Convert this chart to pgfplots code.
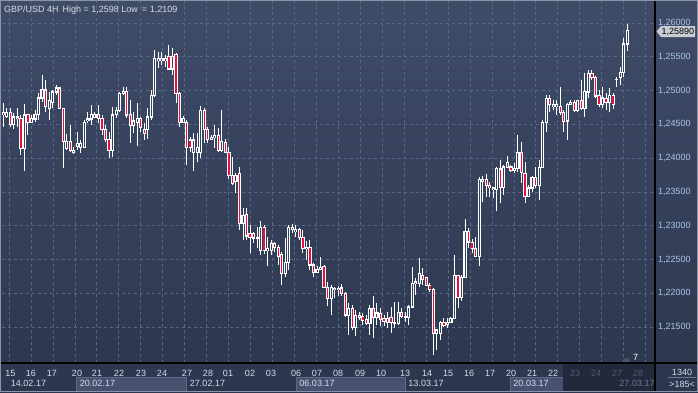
\documentclass[border=0pt]{standalone}
\usepackage{pgfplots}
\usepackage{pgfplotstable}
\pgfplotsset{compat=1.18}
\usepackage{fontspec}
\setmainfont{Liberation Sans}
\definecolor{bgtop}{HTML}{3F4C68}
\definecolor{bgbot}{HTML}{2C364E}
\definecolor{gridc}{HTML}{5A6784}
\definecolor{ylab}{HTML}{A8C4E4}
\definecolor{txt}{HTML}{D6DCE8}
\definecolor{dimtxt}{HTML}{6E7A94}
\definecolor{bearred}{HTML}{E8103C}
\definecolor{bullin}{HTML}{36425C}
\definecolor{boxc}{HTML}{465270}
\definecolor{boxb}{HTML}{5E6A88}
\definecolor{pricebox}{HTML}{C8CCD3}
\definecolor{framec}{HTML}{8C95A8}
\definecolor{marker}{HTML}{4C5468}

% open close high low (GBP/USD, 4H candles)
\pgfplotstableread{
o c h l
1.2464 1.2468 1.2482 1.2446
1.2462 1.2468 1.2474 1.2459
1.2468 1.2450 1.2474 1.2446
1.2450 1.2461 1.2467 1.2443
1.2459 1.2461 1.2474 1.2446
1.2459 1.2415 1.2464 1.2405
1.2415 1.2464 1.2480 1.2381
1.2464 1.2453 1.2464 1.2434
1.2453 1.2459 1.2464 1.2452
1.2458 1.2464 1.2471 1.2453
1.2464 1.2489 1.2496 1.2456
1.2489 1.2501 1.2523 1.2483
1.2501 1.2476 1.2516 1.2468
1.2474 1.2486 1.2498 1.2456
1.2483 1.2498 1.2501 1.2474
1.2498 1.2504 1.2508 1.2493
1.2504 1.2474 1.2505 1.2474
1.2474 1.2425 1.2474 1.2385
1.2414 1.2425 1.2436 1.2412
1.2425 1.2412 1.2449 1.2409
1.2409 1.2412 1.2416 1.2406
1.2418 1.2422 1.2439 1.2412
1.2416 1.2422 1.2427 1.2408
1.2416 1.2453 1.2456 1.2415
1.2456 1.2458 1.2468 1.2452
1.2458 1.2464 1.2479 1.2449
1.2461 1.2464 1.2468 1.2459
1.2465 1.2459 1.2479 1.2452
1.2459 1.2443 1.2464 1.2434
1.2443 1.2427 1.2449 1.2424
1.2427 1.2411 1.2439 1.2400
1.2411 1.2464 1.2476 1.2402
1.2464 1.2471 1.2476 1.2459
1.2470 1.2496 1.2498 1.2468
1.2496 1.2499 1.2505 1.2493
1.2499 1.2464 1.2505 1.2459
1.2465 1.2449 1.2486 1.2422
1.2449 1.2455 1.2468 1.2437
1.2453 1.2459 1.2482 1.2418
1.2459 1.2445 1.2461 1.2439
1.2442 1.2437 1.2452 1.2427
1.2442 1.2461 1.2474 1.2428
1.2461 1.2493 1.2501 1.2456
1.2493 1.2547 1.2560 1.2490
1.2545 1.2547 1.2557 1.2533
1.2544 1.2547 1.2557 1.2538
1.2545 1.2547 1.2553 1.2535
1.2550 1.2532 1.2567 1.2530
1.2532 1.2551 1.2563 1.2523
1.2553 1.2496 1.2556 1.2482
1.2496 1.2453 1.2498 1.2446
1.2453 1.2459 1.2462 1.2452
1.2453 1.2416 1.2456 1.2390
1.2427 1.2416 1.2431 1.2409
1.2408 1.2427 1.2437 1.2381
1.2408 1.2416 1.2437 1.2394
1.2408 1.2471 1.2477 1.2400
1.2471 1.2442 1.2474 1.2422
1.2443 1.2428 1.2446 1.2422
1.2428 1.2431 1.2434 1.2427
1.2431 1.2433 1.2449 1.2415
1.2433 1.2412 1.2445 1.2409
1.2412 1.2425 1.2471 1.2409
1.2424 1.2409 1.2428 1.2408
1.2409 1.2375 1.2416 1.2369
1.2375 1.2363 1.2402 1.2360
1.2365 1.2375 1.2378 1.2348
1.2378 1.2304 1.2387 1.2294
1.2304 1.2316 1.2326 1.2279
1.2317 1.2285 1.2326 1.2279
1.2289 1.2283 1.2301 1.2260
1.2289 1.2282 1.2291 1.2274
1.2282 1.2283 1.2298 1.2268
1.2264 1.2297 1.2307 1.2257
1.2297 1.2264 1.2301 1.2258
1.2263 1.2266 1.2283 1.2240
1.2263 1.2274 1.2279 1.2257
1.2274 1.2268 1.2276 1.2261
1.2268 1.2255 1.2271 1.2242
1.2257 1.2230 1.2261 1.2212
1.2230 1.2246 1.2282 1.2224
1.2246 1.2298 1.2301 1.2234
1.2295 1.2298 1.2303 1.2289
1.2291 1.2295 1.2301 1.2283
1.2294 1.2283 1.2297 1.2279
1.2283 1.2267 1.2294 1.2260
1.2266 1.2268 1.2277 1.2249
1.2268 1.2242 1.2279 1.2234
1.2242 1.2231 1.2245 1.2224
1.2231 1.2236 1.2240 1.2231
1.2236 1.2239 1.2254 1.2234
1.2240 1.2209 1.2242 1.2208
1.2209 1.2193 1.2217 1.2181
1.2193 1.2209 1.2212 1.2168
1.2206 1.2208 1.2209 1.2193
1.2206 1.2208 1.2211 1.2196
1.2208 1.2200 1.2214 1.2197
1.2200 1.2168 1.2202 1.2165
1.2168 1.2178 1.2186 1.2138
1.2178 1.2150 1.2183 1.2146
1.2150 1.2168 1.2175 1.2137
1.2168 1.2165 1.2172 1.2160
1.2166 1.2160 1.2171 1.2153
1.2162 1.2156 1.2168 1.2153
1.2156 1.2178 1.2183 1.2138
1.2178 1.2165 1.2196 1.2134
1.2165 1.2171 1.2186 1.2153
1.2171 1.2162 1.2178 1.2152
1.2163 1.2159 1.2168 1.2152
1.2157 1.2163 1.2172 1.2149
1.2165 1.2157 1.2180 1.2141
1.2156 1.2157 1.2187 1.2149
1.2156 1.2172 1.2187 1.2153
1.2172 1.2166 1.2178 1.2163
1.2165 1.2166 1.2172 1.2157
1.2165 1.2180 1.2183 1.2153
1.2180 1.2215 1.2239 1.2178
1.2215 1.2217 1.2223 1.2197
1.2215 1.2229 1.2252 1.2209
1.2226 1.2221 1.2237 1.2212
1.2223 1.2212 1.2224 1.2211
1.2212 1.2206 1.2215 1.2202
1.2206 1.2141 1.2208 1.2109
1.2141 1.2146 1.2146 1.2116
1.2141 1.2157 1.2160 1.2131
1.2157 1.2153 1.2163 1.2150
1.2154 1.2157 1.2163 1.2149
1.2157 1.2163 1.2165 1.2156
1.2163 1.2226 1.2257 1.2162
1.2226 1.2194 1.2227 1.2178
1.2194 1.2223 1.2227 1.2189
1.2223 1.2292 1.2310 1.2223
1.2292 1.2276 1.2297 1.2268
1.2276 1.2267 1.2280 1.2260
1.2267 1.2255 1.2283 1.2254
1.2255 1.2368 1.2372 1.2240
1.2366 1.2369 1.2374 1.2335
1.2369 1.2360 1.2377 1.2342
1.2360 1.2356 1.2365 1.2342
1.2354 1.2356 1.2356 1.2341
1.2354 1.2385 1.2387 1.2322
1.2384 1.2357 1.2397 1.2334
1.2357 1.2387 1.2390 1.2345
1.2387 1.2394 1.2403 1.2385
1.2387 1.2382 1.2390 1.2379
1.2382 1.2385 1.2393 1.2378
1.2385 1.2409 1.2434 1.2379
1.2409 1.2379 1.2424 1.2363
1.2378 1.2344 1.2394 1.2334
1.2344 1.2356 1.2360 1.2342
1.2356 1.2372 1.2374 1.2350
1.2372 1.2360 1.2387 1.2356
1.2360 1.2387 1.2397 1.2338
1.2387 1.2453 1.2456 1.2385
1.2453 1.2488 1.2493 1.2439
1.2488 1.2479 1.2493 1.2468
1.2477 1.2479 1.2486 1.2471
1.2477 1.2479 1.2486 1.2464
1.2477 1.2467 1.2505 1.2464
1.2468 1.2455 1.2471 1.2439
1.2455 1.2480 1.2482 1.2427
1.2480 1.2483 1.2486 1.2479
1.2483 1.2471 1.2486 1.2468
1.2471 1.2485 1.2486 1.2468
1.2486 1.2474 1.2516 1.2471
1.2474 1.2498 1.2526 1.2461
1.2498 1.2526 1.2530 1.2489
1.2526 1.2520 1.2530 1.2516
1.2520 1.2492 1.2522 1.2489
1.2493 1.2479 1.2501 1.2476
1.2479 1.2489 1.2505 1.2474
1.2489 1.2482 1.2496 1.2471
1.2482 1.2493 1.2504 1.2468
1.2493 1.2479 1.2496 1.2473
1.2516 1.2517 1.2520 1.2505
1.2520 1.2527 1.2535 1.2508
1.2527 1.2569 1.2578 1.2520
1.2569 1.2589 1.2598 1.2559
}\ohlc

\begin{document}
\begin{tikzpicture}[font=\fontsize{9}{10.5}\selectfont]
\useasboundingbox (0,0) rectangle (698pt,-392pt);
\shade[top color=bgtop, bottom color=bgbot] (0,0) rectangle (698pt,-392pt);
% bottom panel boxes
\fill[boxc] (76pt,-377pt) rectangle (186pt,-391pt);
\draw[boxb,line width=0.8pt] (76pt,-391pt) -- (76pt,-377pt) -- (186pt,-377pt) -- (186pt,-391pt);
\fill[boxc] (296pt,-377pt) rectangle (405pt,-391pt);
\draw[boxb,line width=0.8pt] (296pt,-391pt) -- (296pt,-377pt) -- (405pt,-377pt) -- (405pt,-391pt);
\fill[boxc] (510pt,-377pt) rectangle (563pt,-391pt);
\draw[boxb,line width=0.8pt] (510pt,-391pt) -- (510pt,-377pt) -- (563pt,-377pt);
\begin{axis}[
  at={(2pt,-363pt)}, anchor=south west, scale only axis,
  width=653pt, height=361pt,
  xmin=2, xmax=655, ymin=1.2097041, ymax=1.2631065,
  axis line style={draw=none},
  major tick length=0pt,
  ytick={1.215,1.22,1.225,1.23,1.235,1.24,1.245,1.25,1.255,1.26},
  yticklabels={{1,21500},{1,22000},{1,22500},{1,23000},{1,23500},{1,24000},{1,24500},{1,25000},{1,25500},{1,26000}},
  yticklabel pos=right,
  yticklabel style={anchor=west, inner sep=0pt, xshift=3pt, text=ylab},
  ymajorgrids=true,
  grid style={gridc, line width=0.7pt, dash pattern=on 3pt off 3pt},
  xtick={10.5,31,52,77,97,119,141,162,187,208,228,250,271,296,317,338,360,381,405,427,448,469,490,511,532,553,575,596,617,638},
  xticklabels={15,16,17,20,21,22,23,24,27,28,01,02,03,06,07,08,09,10,13,14,15,16,17,20,21,22,{\color{dimtxt}23},{\color{dimtxt}24},{\color{dimtxt}27},{\color{dimtxt}28}},
  xticklabel style={anchor=center, inner sep=0pt, yshift=-10pt, text=txt},
  /pgf/number format/assume math mode=true,
]
\pgfplotsinvokeforeach{0,...,29}{
  \draw[gridc, line width=0.7pt, dash pattern=on 3pt off 3pt] (axis cs:{9+21.95*#1},1.2097) -- (axis cs:{9+21.95*#1},1.2632);
}
% wicks
\addplot[draw=none, forget plot, error bars/.cd, y dir=both, y explicit, error mark=none,
  error bar style={draw=white, line width=1pt}]
  table[x expr={3.3+3.525*\coordindex}, y expr={(\thisrow{h}+\thisrow{l})/2}, y error expr={(\thisrow{h}-\thisrow{l})/2}] {\ohlc};
% bodies (outline)
\addplot[draw=none, forget plot, error bars/.cd, y dir=both, y explicit, error mark=none,
  error bar style={draw=white, line width=3.2pt}]
  table[x expr={3.3+3.525*\coordindex}, y expr={(\thisrow{o}+\thisrow{c})/2}, y error expr={abs(\thisrow{c}-\thisrow{o})/2+0.00008}] {\ohlc};
% bullish inner
\addplot[draw=none, forget plot, error bars/.cd, y dir=both, y explicit, error mark=none,
  error bar style={draw=bullin, line width=1pt}]
  table[x expr={3.3+3.525*\coordindex}, y expr={(\thisrow{o}+\thisrow{c})/2}, y error expr={max(0,(\thisrow{c}-\thisrow{o})/2-0.00008)}] {\ohlc};
% bearish inner
\addplot[draw=none, forget plot, error bars/.cd, y dir=both, y explicit, error mark=none,
  error bar style={draw=bearred, line width=1.4pt}]
  table[x expr={3.3+3.525*\coordindex}, y expr={(\thisrow{o}+\thisrow{c})/2}, y error expr={max(0,(\thisrow{o}-\thisrow{c})/2-0.00008)}] {\ohlc};
\end{axis}
% dark overlay (scroll area)
\fill[black, opacity=0.25] (563pt,-364pt) rectangle (655pt,-391pt);
% separators
\draw[black, line width=1.2pt] (655pt,0pt) -- (655pt,-392pt);
\draw[black, line width=1.2pt] (0pt,-363pt) -- (698pt,-363pt);
% title
\node[anchor=base west, inner sep=0pt, text=txt] at (4pt,-12pt) {GBP/USD 4H\, High = 1,2598 Low\, = 1,2109};
% date row
\node[inner sep=0pt, text=txt] at (28.5pt,-383pt) {14.02.17};
\node[inner sep=0pt, text=txt] at (97.5pt,-383pt) {20.02.17};
\node[inner sep=0pt, text=txt] at (207.5pt,-383pt) {27.02.17};
\node[inner sep=0pt, text=txt] at (317pt,-383pt) {06.03.17};
\node[inner sep=0pt, text=txt] at (426pt,-383pt) {13.03.17};
\node[inner sep=0pt, text=txt] at (531pt,-383pt) {20.03.17};
\node[inner sep=0pt, text=dimtxt] at (637pt,-383pt) {27.03.17};
% right bottom info
\node[inner sep=0pt, text=txt] at (682pt,-372pt) {1340};
\draw[dimtxt, line width=0.6pt] (668pt,-377.5pt) -- (696pt,-377.5pt);
\node[inner sep=0pt, text=txt] at (682pt,-384pt) {>185<};
% scroll marker
\fill[marker] (623pt,-362pt) arc[start angle=180, end angle=0, x radius=3.5pt, y radius=4pt] -- cycle;
\node[inner sep=0pt, text=white] at (635.5pt,-357.5pt) {7};
% current price box
\fill[pricebox] (656.5pt,-31.5pt) -- (661pt,-26pt) -- (695pt,-26pt) -- (695pt,-37pt) -- (661pt,-37pt) -- cycle;
\node[anchor=west, inner sep=0pt, text=black] at (661.5pt,-31.5pt) {1,25890};
% frame
\draw[framec, line width=1pt] (0.5pt,-0.5pt) rectangle (697.5pt,-391.5pt);
\end{tikzpicture}
\end{document}
